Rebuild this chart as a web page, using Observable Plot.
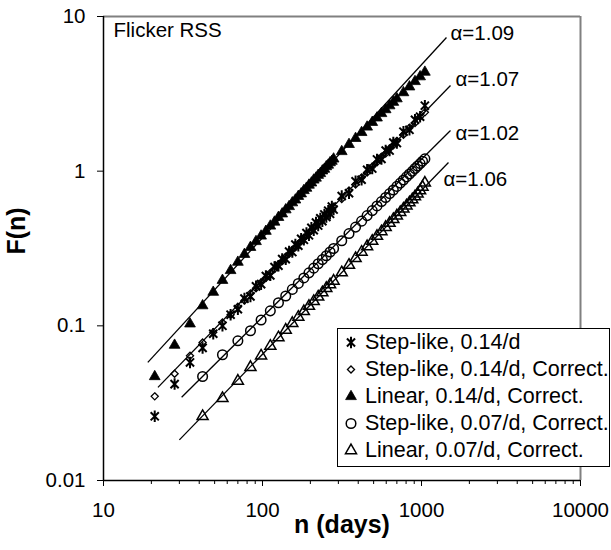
<!DOCTYPE html>
<html>
<head>
<meta charset="utf-8">
<script src="https://cdn.jsdelivr.net/npm/d3@7"></script>
<script src="https://cdn.jsdelivr.net/npm/@observablehq/plot@0.6"></script>
<style>
  html, body { margin: 0; padding: 0; background: #fff; }
  #wrap { position: relative; width: 611px; height: 550px; font-family: "Liberation Sans", Arial, sans-serif; }
  #legend { position: absolute; left: 337px; top: 328px; width: 271px; background: #fff; border: 1px solid #000; padding: 0 0 2px 0; box-sizing: content-box; }
  #legend .row { height: 27px; display: flex; align-items: center; font-size: 21.5px; color: #000; white-space: nowrap; }
  #legend svg { width: 26px; height: 27px; flex: none; margin-right: 1px; }
</style>
</head>
<body>
<div id="wrap"></div>
<script>
// ---- data (n in days, F(n)) ----
const nWeekly = [21,28,35,42,49,56,63,70,77,84,91,98,105,112,119,126,133,140,147,154,161,168,175,182,189,196,203,210,217,224,231,238,245,252,259,266,273,280,
  315,350,385,420,455,490,525,560,595,630,665,700,770,840,910,980,1050];
const nBiweekly = [42,56,70,84,98,112,126,140,154,168,182,196,210,224,238,252,266,280,
  315,350,385,420,455,490,525,560,595,630,665,700,735,770,805,840,875,910,945,980,1015,1050];

const stepLike14 = [0.026,0.042,0.058,0.072,0.089,0.100,0.118,0.128,0.150,0.155,
  0.180,0.186,0.210,0.212,0.240,0.245,0.270,0.270,0.302,0.300,
  0.335,0.330,0.365,0.360,0.398,0.385,0.430,0.415,0.465,0.445,
  0.495,0.475,0.525,0.505,0.555,0.530,0.590,0.565,
  0.69,0.72,0.86,0.88,1.02,1.04,1.19,1.20,1.36,1.36,1.53,1.52,
  1.80,1.85,2.15,2.25,2.65];
const stepLike14Corr = [0.035,0.049,0.064,0.078,0.091,0.105,0.118,0.133,0.146,0.162,
  0.175,0.191,0.204,0.220,0.233,0.250,0.262,0.280,0.292,0.310,
  0.322,0.340,0.352,0.371,0.382,0.402,0.412,0.433,0.443,0.463,
  0.474,0.495,0.504,0.526,0.535,0.557,0.566,0.588,
  0.66,0.75,0.82,0.91,0.98,1.07,1.14,1.24,1.30,1.40,1.47,1.57,
  1.72,1.91,2.05,2.25,2.40];
const linear14Corr = [0.047,0.075,0.103,0.135,0.165,0.197,0.228,0.258,0.290,0.322,
  0.351,0.381,0.409,0.442,0.469,0.503,0.530,0.563,0.591,0.625,
  0.652,0.688,0.714,0.750,0.777,0.813,0.840,0.877,0.903,0.941,
  0.966,1.005,1.03,1.07,1.095,1.135,1.16,1.20,
  1.34,1.49,1.63,1.78,1.93,2.07,2.21,2.36,2.50,2.65,2.79,2.94,
  3.22,3.51,3.80,4.08,4.37];
const stepLike07Corr = [0.047,0.065,0.080,0.093,0.109,0.125,0.141,0.156,0.172,0.188,0.204,0.220,0.236,0.252,0.268,0.284,0.300,0.316,
  0.355,0.395,0.435,0.475,0.516,0.556,0.596,0.636,0.676,0.716,0.756,0.797,0.837,0.877,0.918,0.958,0.998,1.04,1.08,1.12,1.16,1.20];
const linear07Corr = [0.026,0.034,0.044,0.054,0.064,0.074,0.084,0.094,0.104,0.114,0.124,0.134,0.144,0.154,0.164,0.175,0.185,0.195,
  0.221,0.247,0.273,0.300,0.326,0.353,0.380,0.407,0.434,0.461,0.488,0.515,0.542,0.570,0.598,0.626,0.655,0.685,0.715,0.748,0.79,0.84];

const seriesNames = ["Step-like, 0.14/d", "Step-like, 0.14/d, Correct.", "Linear, 0.14/d, Correct.", "Step-like, 0.07/d, Correct.", "Linear, 0.07/d, Correct."];

// power-law fit lines (end points)
const fitAlpha = ["1.09", "1.07", "1.02", "1.06"];
const fitN0 = [19, 22, 31, 30];
const fitF0 = [0.058, 0.040, 0.0345, 0.0183];
const fitN1 = [1436, 1522, 1522, 1478];
const fitF1 = [7.31, 3.58, 1.83, 1.138];

const xMajor = [10, 100, 1000, 10000];
const yMajor = [0.01, 0.1, 1, 10];
const panelLabel = "Flicker RSS";
const xTitle = "n (days)";
const yTitle = "F(n)";

// ---- build ----
const toRows = (ns, fs) => ns.map((n, i) => ({n, F: fs[i]}));
const rowsB = toRows(nWeekly, stepLike14);
const rowsC = toRows(nWeekly, stepLike14Corr);
const rowsA = toRows(nWeekly, linear14Corr);
const rowsD = toRows(nBiweekly, stepLike07Corr);
const rowsE = toRows(nBiweekly, linear07Corr);
const fits = fitAlpha.map((a, i) => ({a, n0: fitN0[i], F0: fitF0[i], n1: fitN1[i], F1: fitF1[i]}));

const xMinor = [];
for (const d of [10, 100, 1000]) for (let k = 2; k <= 9; k++) xMinor.push(d * k);

const starSymbol = {
  draw(ctx, size) {
    const r = Math.sqrt(size / Math.PI) * 1.2;
    const d = r * 0.7071;
    ctx.moveTo(-d, -d); ctx.lineTo(d, d);
    ctx.moveTo(d, -d); ctx.lineTo(-d, d);
    ctx.moveTo(0, -r); ctx.lineTo(0, r);
  }
};

const sty = [
  {symbol: starSymbol, r: 4.8, fill: "none", stroke: "black", strokeWidth: 2},
  {symbol: "diamond2", r: 3.2, fill: "none", stroke: "black", strokeWidth: 1.3},
  {symbol: "triangle", r: 4.0, fill: "black", stroke: "black", strokeWidth: 0.8},
  {symbol: "circle", r: 4.8, fill: "none", stroke: "black", strokeWidth: 1.5},
  {symbol: "triangle", r: 4.1, fill: "none", stroke: "black", strokeWidth: 1.5}
];
const allRows = [rowsB, rowsC, rowsA, rowsD, rowsE];

const labelOffsets = [[4, -4.6], [5, -5.6], [5, 2.4], [-5, 17.4]];

const chart = Plot.plot({
  width: 611,
  height: 550,
  marginLeft: 103,
  marginRight: 31,
  marginTop: 16,
  marginBottom: 70,
  style: {fontFamily: "'Liberation Sans', Arial, sans-serif", fontSize: "20.5px", background: "white", color: "black", overflow: "visible"},
  x: {type: "log", domain: [10, 10000], axis: null},
  y: {type: "log", domain: [0.01, 10], axis: null},
  marks: [
    Plot.axisX({ticks: xMinor, tickSize: 4, tickFormat: () => "", label: null}),
    Plot.axisX({ticks: xMajor, tickSize: 6, tickPadding: 16.4, tickFormat: d => String(d), label: null, fontSize: 20.5}),
    Plot.axisY({ticks: yMajor, tickSize: 6, tickPadding: 12, tickFormat: d => String(d), label: null, fontSize: 20.5}),
    Plot.ruleY([10], {stroke: "#808080", strokeWidth: 2}),
    Plot.ruleX([10000], {stroke: "#808080", strokeWidth: 2}),
    Plot.ruleX([10], {stroke: "black", strokeWidth: 1.5}),
    Plot.ruleY([0.01], {stroke: "black", strokeWidth: 1.5}),
    ...allRows.map((rows, i) => Plot.dot(rows, {x: "n", y: "F", ...sty[i]})),
    Plot.link(fits, {x1: "n0", y1: "F0", x2: "n1", y2: "F1", stroke: "black", strokeWidth: 1.3}),
    ...fits.map((f, i) => Plot.text([f], {x: "n1", y: "F1", text: d => "α=" + d.a, textAnchor: "start", dx: labelOffsets[i][0], dy: labelOffsets[i][1], fontSize: 20.5, fill: "black"})),
    Plot.text([panelLabel], {frameAnchor: "top-left", text: d => d, textAnchor: "start", lineAnchor: "top", dx: 10, dy: 6.4, fontSize: 20.5}),
    Plot.text([xTitle], {frameAnchor: "bottom", text: d => d, dy: 52, fontSize: 25, fontWeight: "bold"}),
    Plot.text([yTitle], {frameAnchor: "left", text: d => d, rotate: -90, dx: -87, dy: 6, fontSize: 25, fontWeight: "bold"})
  ]
});

const wrap = document.getElementById("wrap");
wrap.appendChild(chart);

// legend (HTML overlay)
const legend = document.createElement("div");
legend.id = "legend";
const symPaths = [
  {type: starSymbol, size: Math.PI * 4.8 * 4.8, fill: "none", sw: 2},
  {type: d3.symbolDiamond2, size: Math.PI * 3.2 * 3.2, fill: "none", sw: 1.3},
  {type: d3.symbolTriangle, size: Math.PI * 4.0 * 4.0, fill: "black", sw: 0.8},
  {type: d3.symbolCircle, size: Math.PI * 4.8 * 4.8, fill: "none", sw: 1.5},
  {type: d3.symbolTriangle, size: Math.PI * 4.1 * 4.1, fill: "none", sw: 1.5}
];
seriesNames.forEach((name, i) => {
  const row = document.createElement("div");
  row.className = "row";
  const p = symPaths[i];
  const path = d3.symbol(p.type, p.size)();
  row.innerHTML = `<svg viewBox="-13 -13.5 26 27"><path d="${path}" fill="${p.fill}" stroke="black" stroke-width="${p.sw}"/></svg><span>${name}</span>`;
  legend.appendChild(row);
});
wrap.appendChild(legend);
</script>
</body>
</html>
